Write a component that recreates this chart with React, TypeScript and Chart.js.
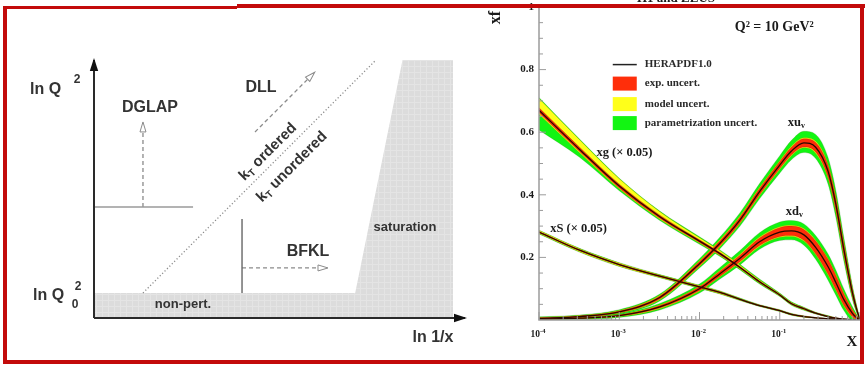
import React, { useEffect, useRef } from "react";
import { Chart, registerables } from "chart.js";

Chart.register(...registerables);

/* ---------- Left panel: evolution regimes in the (ln 1/x, ln Q²) plane ----------
   Diagram units: ln 1/x runs 0..10 along the horizontal axis, ln Q² runs 0..10 upwards. */
const AXIS_LN_INV_X = [{ x: 0, y: 0 }, { x: 10, y: 0 }];
const AXIS_LN_Q2 = [{ x: 0, y: 0 }, { x: 0, y: 10 }];
// upper edge of the shaded non-perturbative strip and the saturation wedge
const SHADED_EDGE = [
  { x: 0, y: 0.97 },
  { x: 7.04, y: 0.97 },
  { x: 8.33, y: 10.1 },
  { x: 9.68, y: 10.1 },
];
const KT_BOUNDARY = [{ x: 1.32, y: 0.97 }, { x: 7.6, y: 10 }];
const DGLAP_BASE = [{ x: 0, y: 4.3 }, { x: 2.67, y: 4.3 }];
const DGLAP_PATH = [{ x: 1.32, y: 4.3 }, { x: 1.32, y: 7.56 }];
const BFKL_BASE = [{ x: 3.99, y: 0.97 }, { x: 3.99, y: 3.84 }];
const BFKL_PATH = [{ x: 3.99, y: 1.94 }, { x: 6.28, y: 1.94 }];
const DLL_PATH = [{ x: 4.34, y: 7.21 }, { x: 5.93, y: 9.5 }];

/* ---------- Right panel: HERAPDF1.0 parton distributions at Q² = 10 GeV² ---------- */
const X_GRID = [0.0001, 0.00032, 0.001, 0.0032, 0.01, 0.018, 0.032, 0.056, 0.1, 0.14, 0.2, 0.28, 0.4, 0.5, 0.63, 0.8, 0.9, 1];

const XUV = [0.005, 0.011, 0.026, 0.072, 0.18, 0.245, 0.32, 0.41, 0.495, 0.54, 0.566, 0.552, 0.475, 0.37, 0.225, 0.09, 0.038, 0];
const XUV_EXP = [0.002, 0.002, 0.003, 0.005, 0.007, 0.008, 0.009, 0.01, 0.011, 0.012, 0.013, 0.015, 0.018, 0.02, 0.018, 0.011, 0.006, 0];
const XUV_MODEL = [0.001, 0.001, 0.001, 0.002, 0.002, 0.003, 0.003, 0.003, 0.003, 0.003, 0.003, 0.004, 0.004, 0.004, 0.004, 0.003, 0.002, 0];
const XUV_PAR_UP = [0.002, 0.002, 0.003, 0.004, 0.007, 0.009, 0.011, 0.013, 0.016, 0.019, 0.021, 0.022, 0.022, 0.02, 0.016, 0.009, 0.005, 0];
const XUV_PAR_DN = [0.002, 0.002, 0.003, 0.004, 0.005, 0.006, 0.008, 0.01, 0.012, 0.013, 0.015, 0.017, 0.019, 0.018, 0.015, 0.008, 0.004, 0];

const XDV = [0.003, 0.006, 0.014, 0.042, 0.1, 0.148, 0.197, 0.25, 0.281, 0.285, 0.272, 0.232, 0.17, 0.12, 0.065, 0.022, 0.008, 0];
const XDV_EXP = [0.001, 0.001, 0.002, 0.004, 0.006, 0.008, 0.01, 0.012, 0.014, 0.015, 0.017, 0.02, 0.023, 0.022, 0.018, 0.011, 0.006, 0];
const XDV_MODEL = [0.001, 0.001, 0.001, 0.002, 0.002, 0.002, 0.003, 0.003, 0.003, 0.003, 0.003, 0.003, 0.003, 0.003, 0.003, 0.002, 0.001, 0];
const XDV_PAR_UP = [0.001, 0.002, 0.003, 0.005, 0.007, 0.01, 0.012, 0.014, 0.015, 0.015, 0.015, 0.015, 0.015, 0.015, 0.013, 0.009, 0.005, 0];
const XDV_PAR_DN = [0.001, 0.002, 0.003, 0.004, 0.006, 0.007, 0.008, 0.009, 0.01, 0.011, 0.013, 0.015, 0.017, 0.016, 0.014, 0.009, 0.005, 0];

// gluon, scaled by 0.05
const XG = [0.67, 0.545, 0.428, 0.33, 0.252, 0.212, 0.168, 0.122, 0.08, 0.052, 0.036, 0.022, 0.011, 0.006, 0.003, 0.001, 0.0005, 0];
const XG_EXP = [0.008, 0.007, 0.006, 0.005, 0.004, 0.004, 0.003, 0.003, 0.002, 0.002, 0.002, 0.001, 0.001, 0.001, 0, 0, 0, 0];
const XG_MODEL_UP = [0.03, 0.024, 0.017, 0.011, 0.007, 0.005, 0.004, 0.003, 0.002, 0.002, 0.001, 0.001, 0.001, 0, 0, 0, 0, 0];
const XG_MODEL_DN = [0.005, 0.004, 0.003, 0.003, 0.002, 0.002, 0.002, 0.001, 0.001, 0.001, 0.001, 0.001, 0, 0, 0, 0, 0, 0];
const XG_PAR_UP = [0.003, 0.002, 0.002, 0.002, 0.003, 0.003, 0.003, 0.003, 0.002, 0.002, 0.002, 0.001, 0.001, 0, 0, 0, 0, 0];
const XG_PAR_DN = [0.05, 0.014, 0.006, 0.004, 0.004, 0.003, 0.003, 0.003, 0.002, 0.002, 0.002, 0.001, 0.001, 0, 0, 0, 0, 0];

// sea, scaled by 0.05
const XS = [0.281, 0.223, 0.177, 0.14, 0.106, 0.088, 0.066, 0.046, 0.03, 0.018, 0.011, 0.007, 0.004, 0.002, 0.001, 0.0005, 0, 0];
const XS_EXP = [0.002, 0.002, 0.002, 0.002, 0.002, 0.002, 0.001, 0.001, 0.001, 0.001, 0.001, 0, 0, 0, 0, 0, 0, 0];
const XS_MODEL = [0.003, 0.003, 0.003, 0.002, 0.002, 0.002, 0.002, 0.001, 0.001, 0.001, 0.001, 0.001, 0, 0, 0, 0, 0, 0];
const XS_PAR = [0.001, 0.001, 0.001, 0.001, 0.001, 0.001, 0.001, 0.001, 0.001, 0.001, 0, 0, 0, 0, 0, 0, 0, 0];

const X_DECADES = [0.0001, 0.001, 0.01, 0.1, 1];
const X_DECADE_EXPONENTS = ["-4", "-3", "-2", "-1"];
const Y_TICK_LABELS = ["0.2", "0.4", "0.6", "0.8", "1"];
const LEGEND_ENTRIES = ["HERAPDF1.0", "exp. uncert.", "model uncert.", "parametrization uncert."];

const RED = "#ff2e0a";
const YELLOW = "#ffff1a";
const GREEN = "#12f512";
const FRAME_RED = "#c30a0a";

const SANS = '"Liberation Sans", Arial, Helvetica, sans-serif';
const SERIF = '"Liberation Serif", "Times New Roman", Times, serif';
const sans = (s: number) => `bold ${s}px ${SANS}`;
const serif = (s: number) => `bold ${s}px ${SERIF}`;

type Run = [string, string, number];

// draws a row of text pieces with their own fonts and vertical offsets (sub/superscripts)
function drawRuns(ctx: CanvasRenderingContext2D, runs: Run[], x: number, y: number, align: "left" | "center" | "right") {
  let total = 0;
  const widths = runs.map(([t, f]) => {
    ctx.font = f;
    const w = ctx.measureText(t).width;
    total += w;
    return w;
  });
  let cx = align === "left" ? x : align === "center" ? x - total / 2 : x - total;
  ctx.textAlign = "left";
  runs.forEach(([t, f, dy], i) => {
    ctx.font = f;
    ctx.fillText(t, cx, y + dy);
    cx += widths[i];
  });
}

// arrowheads at the last point of datasets flagged with `arrow`
const arrowHeads = {
  id: "arrowHeads",
  afterDatasetsDraw(chart: any) {
    const ctx = chart.ctx as CanvasRenderingContext2D;
    chart.data.datasets.forEach((ds: any, i: number) => {
      if (!ds.arrow) return;
      const pts = chart.getDatasetMeta(i).data;
      const p1 = pts[pts.length - 2];
      const p2 = pts[pts.length - 1];
      const ang = Math.atan2(p2.y - p1.y, p2.x - p1.x);
      const solid = ds.arrow === "solid";
      const L = solid ? 11 : 9;
      const W = solid ? 4.2 : 3;
      ctx.save();
      ctx.translate(p2.x, p2.y);
      ctx.rotate(ang);
      ctx.setLineDash([]);
      ctx.beginPath();
      ctx.moveTo(solid ? 2 : 1, 0);
      ctx.lineTo(-L, -W);
      ctx.lineTo(-L, W);
      ctx.closePath();
      if (solid) {
        ctx.fillStyle = "#111";
        ctx.fill();
      } else {
        ctx.fillStyle = "#fff";
        ctx.fill();
        ctx.strokeStyle = "#8a8a8a";
        ctx.lineWidth = 1;
        ctx.stroke();
      }
      ctx.restore();
    });
  },
};

const regimeLabels = {
  id: "regimeLabels",
  afterDatasetsDraw(chart: any) {
    const { ctx, scales } = chart;
    const X = (u: number) => scales.x.getPixelForValue(u);
    const Y = (v: number) => scales.y.getPixelForValue(v);
    ctx.save();
    ctx.fillStyle = "#333";
    ctx.textBaseline = "middle";

    ctx.textAlign = "left";
    ctx.font = sans(16);
    ctx.fillText("ln Q", X(-1.725), Y(8.84));
    ctx.fillText("ln Q", X(-1.644), Y(0.853));
    ctx.textAlign = "center";
    ctx.font = sans(12);
    ctx.fillText("2", X(-0.458), Y(9.22));
    ctx.fillText("2", X(-0.431), Y(1.2));
    ctx.fillText("0", X(-0.512), Y(0.5));

    ctx.font = sans(16);
    ctx.fillText("DGLAP", X(1.509), Y(8.14));
    ctx.fillText("DLL", X(4.5), Y(8.915));
    ctx.fillText("BFKL", X(5.768), Y(2.558));
    ctx.fillText("ln 1/x", X(9.137), Y(-0.775));
    ctx.font = sans(13);
    ctx.fillText("saturation", X(8.383), Y(3.527));
    ctx.fillText("non-pert.", X(2.399), Y(0.543));

    const kt: Array<[string, number, number]> = [
      [" ordered", 4.69, 6.434],
      [" unordered", 5.337, 5.853],
    ];
    for (const [txt, u, v] of kt) {
      ctx.save();
      ctx.translate(X(u), Y(v));
      ctx.rotate(-Math.PI / 4);
      drawRuns(ctx, [["k", sans(15), 0], ["T", sans(10), 4], [txt, sans(15), 0]], 0, 0, "center");
      ctx.restore();
    }
    ctx.restore();
  },
};

function grayTexture(): any {
  const c = document.createElement("canvas");
  c.width = 6;
  c.height = 6;
  const g = c.getContext("2d")!;
  g.fillStyle = "#dcdcdc";
  g.fillRect(0, 0, 6, 6);
  g.fillStyle = "#e4e4e4";
  g.fillRect(0, 0, 6, 1);
  g.fillRect(0, 0, 1, 6);
  return g.createPattern(c, "repeat") || "#dedede";
}

function leftConfig(): any {
  const line = (data: any[], extra: any) => ({
    data,
    pointRadius: 0,
    fill: false,
    clip: false,
    tension: 0,
    ...extra,
  });
  return {
    type: "line",
    data: {
      datasets: [
        line(AXIS_LN_Q2, { borderColor: "#2a2a2a", borderWidth: 2, arrow: "solid" }),
        line(AXIS_LN_INV_X, { borderColor: "#2a2a2a", borderWidth: 2, arrow: "solid" }),
        line(KT_BOUNDARY, { borderColor: "#8c8c8c", borderWidth: 1.3, borderDash: [1.2, 2.2] }),
        line(DGLAP_BASE, { borderColor: "#9a9a9a", borderWidth: 1.6 }),
        line(DGLAP_PATH, { borderColor: "#8a8a8a", borderWidth: 1.3, borderDash: [4, 3], arrow: "open" }),
        line(BFKL_BASE, { borderColor: "#666", borderWidth: 1.4 }),
        line(BFKL_PATH, { borderColor: "#8a8a8a", borderWidth: 1.3, borderDash: [4, 3], arrow: "open" }),
        line(DLL_PATH, { borderColor: "#8a8a8a", borderWidth: 1.3, borderDash: [4, 3], arrow: "open" }),
        line(SHADED_EDGE, {
          borderColor: "rgba(0,0,0,0)",
          borderWidth: 0,
          backgroundColor: grayTexture(),
          fill: "origin",
          order: 5,
        }),
      ],
    },
    options: {
      animation: false,
      responsive: false,
      layout: { padding: { left: 94, right: 15, top: 60, bottom: 50 } },
      scales: {
        x: { type: "linear", min: 0, max: 10, display: false },
        y: { type: "linear", min: 0, max: 10, display: false },
      },
      plugins: { legend: { display: false }, tooltip: { enabled: false } },
    },
    plugins: [arrowHeads, regimeLabels],
  };
}

const pdfFrame = {
  id: "pdfFrame",
  afterDatasetsDraw(chart: any) {
    const { ctx, chartArea: a, scales } = chart;
    const X = (v: number) => scales.x.getPixelForValue(v);
    const Y = (v: number) => scales.y.getPixelForValue(v);
    ctx.save();
    ctx.setLineDash([]);

    // axes and inward ticks
    ctx.strokeStyle = "#9c9c9c";
    ctx.lineWidth = 1.5;
    ctx.beginPath();
    ctx.moveTo(a.left, a.top);
    ctx.lineTo(a.left, a.bottom);
    ctx.lineTo(a.right, a.bottom);
    ctx.stroke();
    ctx.lineWidth = 1;
    ctx.beginPath();
    for (let k = 1; k <= 20; k++) {
      const len = k % 4 === 0 ? 7 : 4;
      ctx.moveTo(a.left, Y(k * 0.05));
      ctx.lineTo(a.left + len, Y(k * 0.05));
    }
    for (const d of X_DECADES) {
      for (let m = 1; m <= 9; m++) {
        const v = d * m;
        if (v > 1.0001) break;
        const len = m === 1 ? 8 : 4;
        ctx.moveTo(X(v), a.bottom);
        ctx.lineTo(X(v), a.bottom - len);
      }
    }
    ctx.stroke();

    ctx.fillStyle = "#1a1a1a";
    // x tick labels 10^n
    ctx.textBaseline = "alphabetic";
    X_DECADE_EXPONENTS.forEach((e, i) => {
      drawRuns(ctx, [["10", serif(9.5), 0], [e, serif(6.5), -4]], X(X_DECADES[i]) - 1, a.bottom + 17, "center");
    });
    // y tick labels
    ctx.textBaseline = "middle";
    ctx.textAlign = "right";
    ctx.font = serif(11);
    Y_TICK_LABELS.forEach((t) => ctx.fillText(t, a.left - 5, Y(parseFloat(t))));

    // axis titles
    ctx.font = serif(16);
    ctx.save();
    ctx.translate(a.left - 43, a.top + 4);
    ctx.rotate(-Math.PI / 2);
    ctx.textAlign = "right";
    ctx.fillText("xf", 0, 0);
    ctx.restore();
    ctx.textAlign = "center";
    ctx.font = serif(15);
    ctx.fillText("X", a.right - 8, a.bottom + 22);

    // heading, mostly hidden behind the frame
    ctx.textBaseline = "alphabetic";
    ctx.font = serif(13);
    ctx.fillText("H1 and ZEUS", a.left + 137, 2);

    // scale label
    ctx.textBaseline = "middle";
    ctx.textAlign = "left";
    ctx.font = serif(14);
    ctx.fillText("Q² = 10 GeV²", X(0.0275), Y(0.934));

    // legend
    const lx = X(0.00083);
    const ly = Y(0.816);
    const rows = [0, 19, 39.5, 58.5];
    ctx.strokeStyle = "#222";
    ctx.lineWidth = 1.5;
    ctx.beginPath();
    ctx.moveTo(lx, ly);
    ctx.lineTo(lx + 24, ly);
    ctx.stroke();
    [RED, YELLOW, GREEN].forEach((c, i) => {
      ctx.fillStyle = c;
      ctx.fillRect(lx, ly + rows[i + 1] - 7, 24, 14);
    });
    ctx.fillStyle = "#2a2a2a";
    ctx.font = serif(11);
    LEGEND_ENTRIES.forEach((t, i) => ctx.fillText(t, lx + 32, ly + rows[i]));

    // curve labels
    ctx.fillStyle = "#1a1a1a";
    ctx.font = serif(12.5);
    ctx.fillText("xg (× 0.05)", X(0.00052), Y(0.535));
    ctx.fillText("xS (× 0.05)", X(0.000138), Y(0.292));
    drawRuns(ctx, [["xu", serif(12.5), 0], ["v", serif(8), 3]], X(0.126), Y(0.631), "left");
    drawRuns(ctx, [["xd", serif(12.5), 0], ["v", serif(8), 3]], X(0.119), Y(0.345), "left");
    ctx.restore();
  },
};

type Pdf = { c: number[]; exp: number[]; mUp: number[]; mDn: number[]; pUp: number[]; pDn: number[] };

const PDFS: Pdf[] = [
  { c: XG, exp: XG_EXP, mUp: XG_MODEL_UP, mDn: XG_MODEL_DN, pUp: XG_PAR_UP, pDn: XG_PAR_DN },
  { c: XS, exp: XS_EXP, mUp: XS_MODEL, mDn: XS_MODEL, pUp: XS_PAR, pDn: XS_PAR },
  { c: XUV, exp: XUV_EXP, mUp: XUV_MODEL, mDn: XUV_MODEL, pUp: XUV_PAR_UP, pDn: XUV_PAR_DN },
  { c: XDV, exp: XDV_EXP, mUp: XDV_MODEL, mDn: XDV_MODEL, pUp: XDV_PAR_UP, pDn: XDV_PAR_DN },
];

const pts = (vals: number[]) => X_GRID.map((x, i) => ({ x, y: vals[i] }));

function rightConfig(): any {
  const base = {
    pointRadius: 0,
    cubicInterpolationMode: "monotone",
    borderWidth: 1,
    borderColor: "rgba(0,0,0,0)",
  };
  const layers = [
    { color: GREEN, edge: "rgba(40,120,20,0.35)", order: 3, up: (p: Pdf, i: number) => p.exp[i] + p.mUp[i] + p.pUp[i], dn: (p: Pdf, i: number) => p.exp[i] + p.mDn[i] + p.pDn[i] },
    { color: YELLOW, edge: "rgba(150,130,0,0.45)", order: 2, up: (p: Pdf, i: number) => p.exp[i] + p.mUp[i], dn: (p: Pdf, i: number) => p.exp[i] + p.mDn[i] },
    { color: RED, edge: "rgba(140,20,0,0.5)", order: 1, up: (p: Pdf, i: number) => p.exp[i], dn: (p: Pdf, i: number) => p.exp[i] },
  ];
  const datasets: any[] = [];
  for (const L of layers) {
    for (const p of PDFS) {
      const lo = p.c.map((v, i) => Math.max(0, v - L.dn(p, i)));
      const hi = p.c.map((v, i) => v + L.up(p, i));
      datasets.push({ ...base, data: pts(lo), fill: false, order: L.order, borderColor: L.edge, borderWidth: 0.6 });
      datasets.push({ ...base, data: pts(hi), fill: "-1", backgroundColor: L.color, order: L.order, borderColor: L.edge, borderWidth: 0.6 });
    }
  }
  for (const p of PDFS) {
    datasets.push({ ...base, data: pts(p.c), fill: false, borderColor: "#2a0800", borderWidth: 1.3, order: 0 });
  }
  return {
    type: "line",
    data: { datasets },
    options: {
      animation: false,
      responsive: false,
      layout: { padding: { left: 59, right: 5, top: 7, bottom: 48 } },
      scales: {
        x: { type: "logarithmic", min: 0.0001, max: 1, display: false },
        y: { type: "linear", min: 0, max: 1, display: false },
      },
      plugins: { legend: { display: false }, tooltip: { enabled: false } },
    },
    plugins: [pdfFrame],
  };
}

const bar = (left: number, top: number, width: number, height: number): React.CSSProperties => ({
  position: "absolute",
  left,
  top,
  width,
  height,
  background: FRAME_RED,
});

export default function App() {
  const leftRef = useRef<HTMLCanvasElement>(null);
  const rightRef = useRef<HTMLCanvasElement>(null);

  useEffect(() => {
    const left = new Chart(leftRef.current!, leftConfig());
    const right = new Chart(rightRef.current!, rightConfig());
    return () => {
      left.destroy();
      right.destroy();
    };
  }, []);

  return (
    <div style={{ position: "fixed", left: 0, top: 0, width: 865, height: 368, background: "#fff", overflow: "hidden" }}>
      <canvas ref={leftRef} width={480} height={368} style={{ position: "absolute", left: 0, top: 0, width: 480, height: 368 }} />
      <canvas ref={rightRef} width={385} height={368} style={{ position: "absolute", left: 480, top: 0, width: 385, height: 368 }} />
      <div style={bar(3, 6, 234, 3)} />
      <div style={bar(237, 4, 628, 4)} />
      <div style={bar(3, 6, 4, 358)} />
      <div style={bar(3, 360, 861, 4)} />
      <div style={bar(860, 4, 4, 360)} />
    </div>
  );
}
